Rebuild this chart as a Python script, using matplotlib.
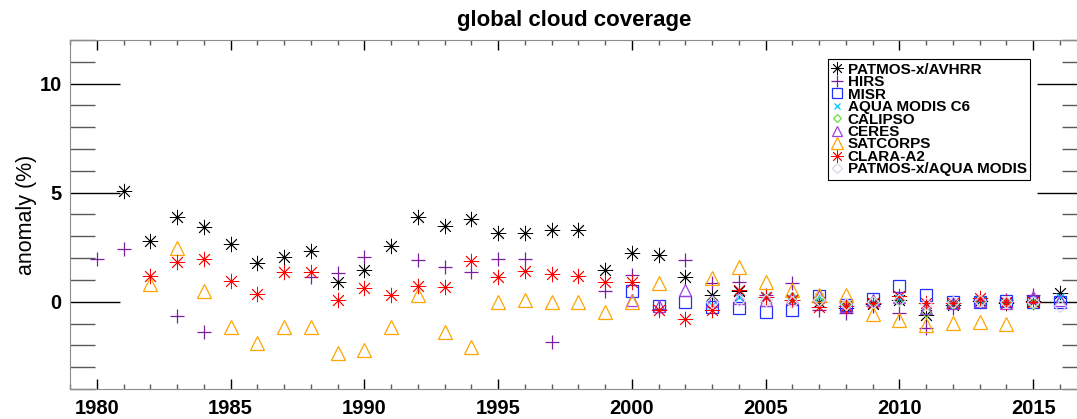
import matplotlib
matplotlib.use("Agg")
import matplotlib.pyplot as plt
import numpy as np

# anomaly (%) per dataset
patmos_years = list(range(1981, 2017))
patmos_vals = [5.09, 2.8, 3.9, 3.44, 2.66, 1.79, 2.06, 2.34, 0.92, 1.47,
               2.57, 3.9, 3.49, 3.81, 3.16, 3.16, 3.3, 3.3, 1.47, 2.25,
               2.16, 1.15, 0.32, 0.5, 0.23, 0.09, 0.0, -0.3, -0.1, 0.1,
               -0.6, -0.15, 0.05, -0.05, 0.05, 0.4]

hirs_years = [1980, 1981, 1983, 1984, 1988, 1989, 1990, 1992, 1993, 1994,
              1995, 1996, 1997, 1999, 2000, 2001, 2002, 2003, 2004, 2005,
              2006, 2007, 2008, 2009, 2010, 2011, 2012, 2013, 2014, 2015]
hirs_vals = [1.97, 2.43, -0.64, -1.38, 1.15, 1.33, 2.06, 1.93, 1.6, 1.38,
             1.97, 1.97, -1.83, 0.5, 1.24, -0.35, 1.93, 0.87, 0.92, 0.3,
             0.87, -0.4, -0.5, -0.2, -0.5, -1.2, -0.3, 0.1, 0.1, 0.3]

misr_years = list(range(2000, 2017))
misr_vals = [0.5, -0.2, 0.0, -0.23, -0.28, -0.46, -0.37, 0.28, -0.14, 0.14,
             0.73, 0.32, 0.0, 0.0, 0.05, 0.0, 0.0]

modis_years = list(range(2003, 2017))
modis_vals = [-0.15, 0.2, 0.25, 0.05, 0.2, -0.15, 0.0, 0.15, -0.2, -0.05,
              0.1, 0.0, 0.05, 0.2]

calipso_years = list(range(2006, 2016))
calipso_vals = [0.2, 0.05, -0.1, 0.05, 0.1, -0.45, -0.1, 0.0, 0.0, -0.1]

ceres_years = list(range(2000, 2017))
ceres_vals = [0.1, -0.2, 0.55, 0.05, 0.18, 0.1, 0.15, 0.25, -0.2, 0.1,
              0.2, -0.3, -0.05, 0.05, -0.05, 0.2, 0.1]

satcorps_years = [1982, 1983, 1984, 1985, 1986, 1987, 1988, 1989, 1990, 1991,
                  1992, 1993, 1994, 1995, 1996, 1997, 1998, 1999, 2000, 2001,
                  2003, 2004, 2005, 2006, 2007, 2008, 2009, 2010, 2011, 2012,
                  2013, 2014]
satcorps_vals = [0.83, 2.48, 0.5, -1.15, -1.88, -1.15, -1.15, -2.34, -2.2, -1.15,
                 0.32, -1.38, -2.06, 0.0, 0.09, 0.0, 0.0, -0.46, 0.0, 0.87,
                 1.1, 1.6, 0.92, 0.55, 0.3, 0.32, -0.55, -0.83, -1.05, -0.98,
                 -0.92, -1.02]

clara_years = list(range(1982, 2016))
clara_vals = [1.19, 1.83, 1.97, 0.96, 0.37, 1.38, 1.38, 0.09, 0.64, 0.32,
              0.73, 0.69, 1.88, 1.15, 1.42, 1.28, 1.19, 0.92, 0.92, -0.37,
              -0.78, -0.37, 0.55, 0.2, 0.09, -0.25, -0.2, -0.05, 0.28, -0.05,
              -0.05, 0.18, 0.0, 0.0]

pm_years = list(range(2003, 2017))
pm_vals = [0.0, 0.1, 0.1, 0.0, 0.1, -0.1, 0.0, 0.1, -0.1, 0.0,
           0.05, 0.0, 0.0, -0.2]

asterisk = (8, 2, 0)
series = [
    ("PATMOS-x/AVHRR", patmos_years, patmos_vals, asterisk, "black", 11),
    ("HIRS", hirs_years, hirs_vals, "+", "#7a1fa2", 10),
    ("MISR", misr_years, misr_vals, "s", "#2030ff", 9),
    ("AQUA MODIS C6", modis_years, modis_vals, "x", "#00c8ff", 6),
    ("CALIPSO", calipso_years, calipso_vals, "D", "#66e040", 5),
    ("CERES", ceres_years, ceres_vals, "^", "#a040e0", 9),
    ("SATCORPS", satcorps_years, satcorps_vals, "^", "#ffa500", 10),
    ("CLARA-A2", clara_years, clara_vals, asterisk, "red", 11),
    ("PATMOS-x/AQUA MODIS", pm_years, pm_vals, "D", "#d8d8e8", 6),
]

plt.rcParams['font.family'] = ['Liberation Sans', 'DejaVu Sans']

fig = plt.figure(figsize=(10.77, 4.19), dpi=100)
ax = fig.add_axes([0.065, 0.0716, 0.944, 0.833])

for name, xs, ys, mk, col, ms in series:
    filled = mk in ("s", "^", "D")
    ax.plot(xs, ys, linestyle='none', marker=mk, markersize=ms,
            markerfacecolor='none' if filled else col, markeredgecolor=col,
            markeredgewidth=0.6 if mk == asterisk else 0.9, label=name)

ax.set_xlim(1979, 2017)
ax.set_ylim(-4, 12)
ax.set_xticks(np.arange(1980, 2016, 5))
ax.set_xticks(np.arange(1979, 2018, 1), minor=True)
ax.set_yticks([0, 5, 10])
ax.set_yticks(np.arange(-4, 13, 1), minor=True)

ax.tick_params(axis='y', which='major', direction='in', length=36, width=1,
               right=True, labelsize=14.5, pad=6)
ax.tick_params(axis='y', which='minor', direction='in', length=18, width=1,
               right=True, color='0.35')
ax.tick_params(axis='x', which='major', direction='in', length=7, width=1,
               top=True, labelsize=14.5, pad=7)
ax.tick_params(axis='x', which='minor', direction='in', length=3.5, width=1,
               top=True, color='0.35')
for lbl in ax.get_xticklabels() + ax.get_yticklabels():
    lbl.set_fontweight('bold')
for sp in ax.spines.values():
    sp.set_color('0.55')

ax.set_ylabel("anomaly (%)", fontsize=15.5, labelpad=2)
fig.text(0.533, 0.952, "global cloud coverage", fontsize=16, fontweight='bold',
         ha='center', va='center')

leg = ax.legend(loc='upper left', bbox_to_anchor=(0.746, 0.946),
                frameon=True, fancybox=False, framealpha=1, edgecolor='black',
                prop={'family': ['Liberation Sans Narrow', 'Liberation Sans'],
                      'weight': 'bold', 'size': 11},
                labelspacing=-0.1, handlelength=0.6, handletextpad=0.4,
                borderpad=0.25, borderaxespad=0, markerscale=0.8)
leg.get_frame().set_linewidth(0.8)

fig.savefig("out.png", dpi=100)
